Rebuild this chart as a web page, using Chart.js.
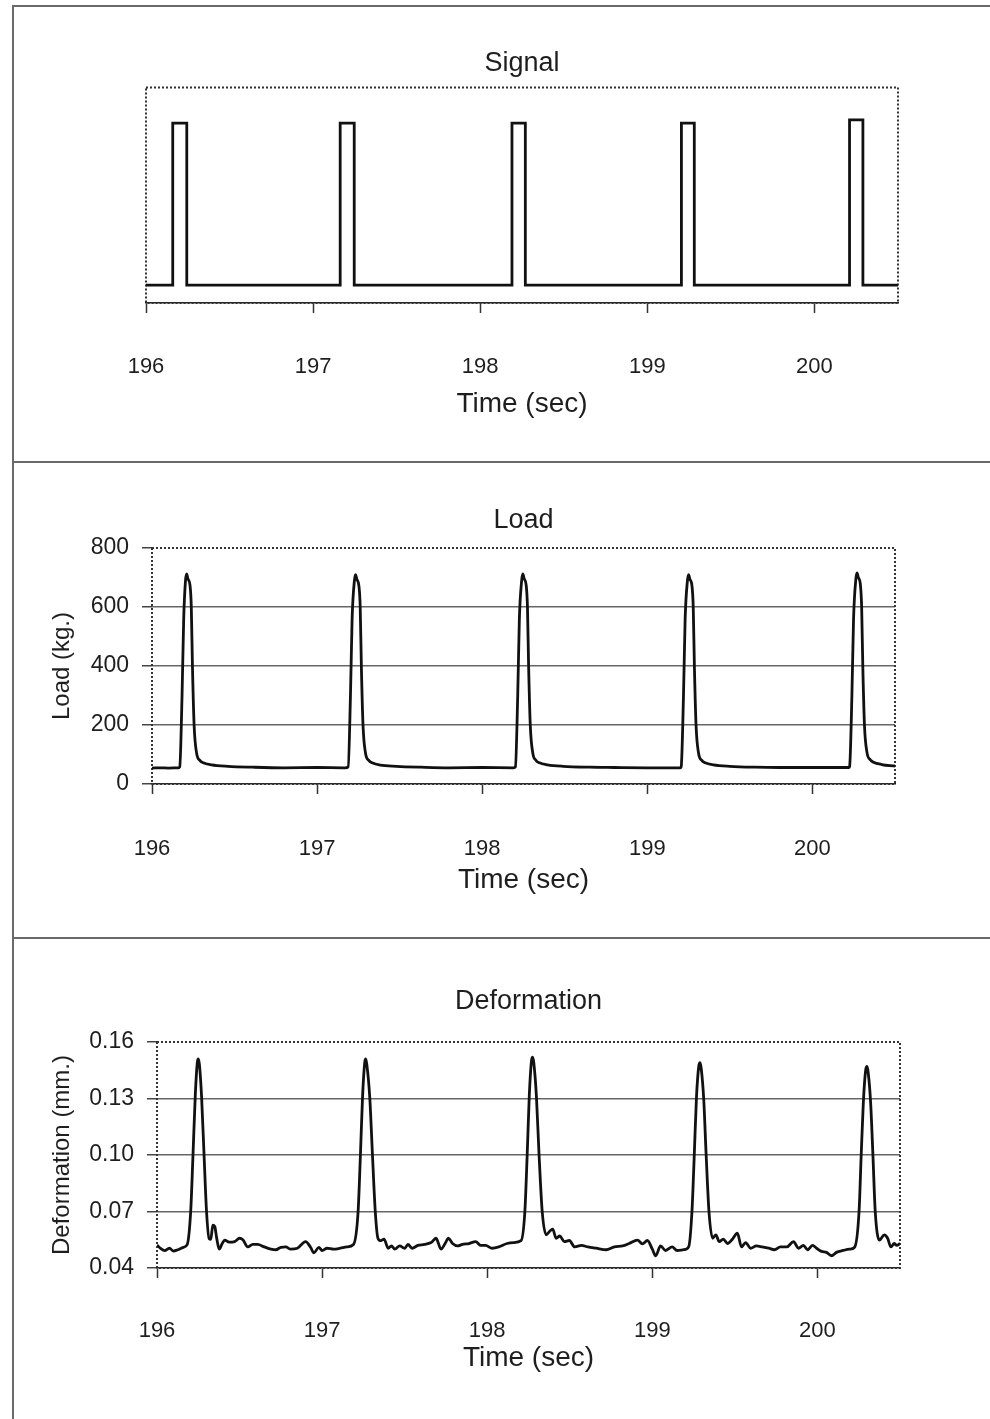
<!DOCTYPE html>
<html>
<head>
<meta charset="utf-8">
<title>Signal / Load / Deformation</title>
<script src="https://cdn.jsdelivr.net/npm/chart.js@4.4.1/dist/chart.umd.min.js"></script>
<style>
  html, body { margin: 0; padding: 0; background: #fff; }
  #page { position: relative; width: 990px; height: 1419px; overflow: hidden; }
  .rule { position: absolute; background: #6a6a6a; }
  canvas { position: absolute; left: 0; }
</style>
</head>
<body>
<div id="page">
  <div class="rule" style="left:12px; top:5px; width:978px; height:2px;"></div>
  <div class="rule" style="left:12px; top:5px; width:2px; height:1414px;"></div>
  <div class="rule" style="left:12px; top:461px; width:978px; height:2px;"></div>
  <div class="rule" style="left:12px; top:937px; width:978px; height:2px;"></div>
  <canvas id="signalChart" width="990" height="462" style="top:0px"></canvas>
  <canvas id="loadChart" width="990" height="476" style="top:462px"></canvas>
  <canvas id="deformChart" width="990" height="481" style="top:938px"></canvas>
</div>

<script>
// Eje de tiempo común
const timeTicks = [196, 197, 198, 199, 200];

// Señal: instantes de cambio y nivel a partir de cada instante
const signalTime = [196.00, 196.16, 196.244, 197.162, 197.246, 198.19, 198.27, 199.204, 199.281, 200.21, 200.29, 200.50];
const signalLevel = [0, 1, 0, 1, 0, 1, 0, 1, 0, 1.02, 0, 0];

// Carga (kg.)
const loadTicks = [0, 200, 400, 600, 800];
const loadTime = [
  196.00, 196.05, 196.10, 196.16,
  196.168, 196.182, 196.192, 196.203, 196.21, 196.218, 196.23, 196.238, 196.245, 196.255, 196.27, 196.29, 196.31, 196.36, 196.46, 196.61, 196.80, 197.00, 197.17,
  197.188, 197.202, 197.212, 197.226, 197.233, 197.241, 197.253, 197.261, 197.268, 197.278, 197.293, 197.313, 197.333, 197.383, 197.48, 197.63, 197.80, 198.00, 198.19,
  198.201, 198.215, 198.225, 198.239, 198.246, 198.254, 198.266, 198.274, 198.281, 198.291, 198.306, 198.326, 198.346, 198.396, 198.49, 198.65, 198.80, 199.00, 199.20,
  199.205, 199.219, 199.229, 199.243, 199.25, 199.258, 199.27, 199.278, 199.285, 199.295, 199.31, 199.33, 199.35, 199.40, 199.50, 199.65, 199.80, 200.00, 200.22,
  200.225, 200.239, 200.249, 200.263, 200.27, 200.278, 200.29, 200.298, 200.305, 200.315, 200.33, 200.35, 200.37, 200.42, 200.47, 200.50
];
const loadKg = [
  54, 55, 54, 55,
  58, 300, 560, 690, 712, 695, 675, 600, 400, 200, 105, 80, 72, 65, 60, 57, 55, 56, 55,
  58, 300, 560, 690, 710, 694, 672, 600, 400, 200, 105, 80, 72, 64, 60, 57, 55, 56, 55,
  58, 300, 560, 690, 712, 696, 675, 600, 400, 200, 106, 80, 72, 65, 60, 57, 56, 55, 55,
  58, 300, 560, 690, 710, 694, 673, 600, 400, 200, 105, 80, 72, 65, 60, 57, 56, 56, 56,
  59, 300, 560, 695, 716, 700, 678, 600, 400, 200, 108, 82, 74, 66, 62, 61
];

// Deformación (mm.)
const deformTicks = [0.04, 0.07, 0.10, 0.13, 0.16];
const deformTime = [
  196.00, 196.02, 196.047, 196.075, 196.10, 196.126, 196.16, 196.183,
  196.204, 196.218, 196.232, 196.244, 196.25, 196.257, 196.27, 196.285, 196.30, 196.316,
  196.326, 196.338, 196.35, 196.362, 196.377, 196.395, 196.41, 196.437, 196.47, 196.50, 196.52, 196.55, 196.58, 196.61, 196.65, 196.69,
  196.72, 196.75, 196.78, 196.81, 196.85, 196.90, 196.93, 196.95, 196.98, 197.00, 197.03, 197.07, 197.11, 197.15, 197.19,
  197.218, 197.232, 197.245, 197.258, 197.264, 197.271, 197.289, 197.305, 197.322, 197.338,
  197.355, 197.375, 197.40, 197.42, 197.44, 197.47, 197.50, 197.52, 197.545, 197.58, 197.62, 197.66, 197.69, 197.72, 197.745, 197.765,
  197.79, 197.82, 197.85, 197.89, 197.93, 197.96, 197.99, 198.03, 198.07, 198.12, 198.16, 198.205,
  198.228, 198.242, 198.255, 198.268, 198.275, 198.282, 198.298, 198.314, 198.333,
  198.357, 198.377, 198.397, 198.417, 198.44, 198.467, 198.497, 198.53, 198.57, 198.61, 198.66, 198.72, 198.77, 198.82, 198.86, 198.91,
  198.94, 198.97, 199.00, 199.02, 199.05, 199.08, 199.12, 199.15, 199.19, 199.22,
  199.24, 199.254, 199.267, 199.281, 199.289, 199.296, 199.311, 199.326, 199.343,
  199.365, 199.385, 199.405, 199.43, 199.455, 199.485, 199.515, 199.54, 199.565, 199.595, 199.63, 199.665, 199.705, 199.74, 199.775, 199.815,
  199.855, 199.885, 199.915, 199.94, 199.97, 199.995, 200.025, 200.055, 200.085, 200.115, 200.155, 200.195, 200.225,
  200.252, 200.265, 200.278, 200.292, 200.30, 200.307, 200.322, 200.336, 200.35,
  200.375, 200.405, 200.425, 200.445, 200.465, 200.48, 200.50
];
const deformMm = [
  0.0522, 0.0505, 0.0492, 0.0505, 0.0490, 0.0497, 0.0510, 0.0525,
  0.070, 0.100, 0.132, 0.149, 0.151, 0.148, 0.131, 0.100, 0.070, 0.0555,
  0.0552, 0.0628, 0.0620, 0.0556, 0.0500, 0.0530, 0.0548, 0.0537, 0.0540, 0.0558, 0.0550, 0.0512, 0.0525, 0.0525, 0.0512, 0.0500,
  0.0497, 0.0510, 0.0512, 0.0500, 0.0505, 0.0540, 0.0510, 0.0480, 0.0510, 0.0493, 0.0505, 0.0500, 0.0505, 0.0512, 0.0525,
  0.070, 0.100, 0.131, 0.149, 0.151, 0.148, 0.130, 0.100, 0.070, 0.0558,
  0.0545, 0.0553, 0.0505, 0.0517, 0.0500, 0.0517, 0.0505, 0.0525, 0.0505, 0.0520, 0.0525, 0.0535, 0.0558, 0.0500, 0.0530, 0.0558,
  0.0530, 0.0517, 0.0525, 0.0530, 0.0540, 0.0520, 0.0520, 0.0505, 0.0512, 0.0530, 0.0535, 0.0545,
  0.070, 0.100, 0.132, 0.150, 0.152, 0.149, 0.131, 0.100, 0.070,
  0.0576, 0.0594, 0.0606, 0.0558, 0.0570, 0.0540, 0.0546, 0.0512, 0.0520, 0.0512, 0.0505, 0.0497, 0.0512, 0.0517, 0.0530, 0.0548,
  0.0528, 0.0546, 0.0500, 0.0465, 0.0517, 0.0493, 0.0512, 0.0493, 0.0497, 0.0512,
  0.070, 0.100, 0.130, 0.147, 0.149, 0.146, 0.130, 0.100, 0.070,
  0.0558, 0.0576, 0.0540, 0.0553, 0.0530, 0.0553, 0.0585, 0.0512, 0.0535, 0.0505, 0.0517, 0.0512, 0.0505, 0.0497, 0.0512, 0.0512,
  0.0540, 0.0505, 0.0520, 0.0497, 0.0520, 0.0505, 0.0488, 0.0483, 0.0465, 0.0483, 0.0493, 0.0500, 0.0510,
  0.070, 0.100, 0.128, 0.145, 0.147, 0.144, 0.128, 0.100, 0.070,
  0.0548, 0.0576, 0.0558, 0.0512, 0.0530, 0.0520, 0.0530
];

const FONT = "'Liberation Sans', Arial, Helvetica, sans-serif";
const INK = '#1e1e1e';
const LINE = '#111';

// Borde punteado alrededor del área de trazado
const dottedFrame = {
    id: 'dottedFrame',
    beforeDatasetsDraw(chart) {
        const { ctx, chartArea: a } = chart;
        ctx.save();
        ctx.strokeStyle = '#333';
        ctx.lineWidth = 2;
        ctx.setLineDash([2, 2]);
        ctx.strokeRect(a.left, a.top, a.right - a.left, a.bottom - a.top);
        ctx.restore();
    }
};

function toPoints(xs, ys) {
    return xs.map((x, i) => ({ x: x, y: ys[i] }));
}

// Eje X de tiempo (sec) compartido por los tres gráficos
function timeAxis(tickPadding, axisHeight) {
    return {
        type: 'linear',
        min: 196,
        max: 200.5,
        afterBuildTicks: s => { s.ticks = timeTicks.map(v => ({ value: v })); },
        afterFit: s => { s.height = axisHeight; },
        ticks: { padding: tickPadding, color: INK, maxRotation: 0, font: { family: FONT, size: 22 }, callback: v => String(v) },
        grid: { drawOnChartArea: false, tickLength: 10, tickColor: '#333', tickWidth: 1.5 },
        border: { display: true, color: '#222', width: 1.5 },
        title: { display: true, text: 'Time (sec)', color: INK, font: { family: FONT, size: 28 }, padding: 0 }
    };
}

function valueAxis(min, max, tickList, label, axisWidth, fmt) {
    return {
        min: min,
        max: max,
        afterBuildTicks: s => { s.ticks = tickList.map(v => ({ value: v })); },
        afterFit: s => { s.width = axisWidth; },
        ticks: { padding: 13, color: INK, font: { family: FONT, size: 23 }, callback: fmt },
        grid: {
            color: c => (c.index === 0 || c.index === tickList.length - 1) ? 'rgba(0,0,0,0)' : '#666',
            lineWidth: 1.5,
            tickLength: 10,
            tickColor: '#444'
        },
        border: { display: false },
        title: { display: true, text: label, color: INK, font: { family: FONT, size: 24 }, padding: 0 }
    };
}

function chartTitle(text, bottomPad) {
    return {
        display: true,
        text: text,
        fullSize: false,
        color: INK,
        font: { family: FONT, size: 27, weight: 'normal' },
        padding: { top: 0, bottom: bottomPad }
    };
}

function lineDataset(points, extra) {
    return Object.assign({
        data: points,
        borderColor: LINE,
        borderWidth: 2.8,
        pointRadius: 0,
        fill: false
    }, extra || {});
}

document.addEventListener('DOMContentLoaded', () => {
    renderSignalChart();
    renderLoadChart();
    renderDeformChart();
});

function renderSignalChart() {
    new Chart(document.getElementById('signalChart'), {
        type: 'line',
        data: { datasets: [lineDataset(toPoints(signalTime, signalLevel), { stepped: true })] },
        options: {
            responsive: false,
            animation: false,
            devicePixelRatio: 1,
            layout: { padding: { top: 47, left: 146, right: 92, bottom: 41 } },
            plugins: { legend: { display: false }, tooltip: { enabled: false }, title: chartTitle('Signal', 8) },
            scales: {
                x: timeAxis(41, 118),
                y: { display: false, min: -0.11, max: 1.22 }
            }
        },
        plugins: [dottedFrame]
    });
}

function renderLoadChart() {
    new Chart(document.getElementById('loadChart'), {
        type: 'line',
        data: { datasets: [lineDataset(toPoints(loadTime, loadKg), { cubicInterpolationMode: 'monotone' })] },
        options: {
            responsive: false,
            animation: false,
            devicePixelRatio: 1,
            layout: { padding: { top: 42, left: 48, right: 95, bottom: 41 } },
            plugins: { legend: { display: false }, tooltip: { enabled: false }, title: chartTitle('Load', 11.6) },
            scales: {
                x: timeAxis(42, 113),
                y: valueAxis(0, 800, loadTicks, 'Load (kg.)', 104, v => String(v))
            }
        },
        plugins: [dottedFrame]
    });
}

function renderDeformChart() {
    new Chart(document.getElementById('deformChart'), {
        type: 'line',
        data: { datasets: [lineDataset(toPoints(deformTime, deformMm), { cubicInterpolationMode: 'monotone' })] },
        options: {
            responsive: false,
            animation: false,
            devicePixelRatio: 1,
            layout: { padding: { top: 47, left: 48, right: 90, bottom: 44 } },
            plugins: { legend: { display: false }, tooltip: { enabled: false }, title: chartTitle('Deformation', 24.6) },
            scales: {
                x: timeAxis(40, 107),
                y: valueAxis(0.04, 0.16, deformTicks, 'Deformation (mm.)', 109, v => v.toFixed(2))
            }
        },
        plugins: [dottedFrame]
    });
}
</script>
</body>
</html>
